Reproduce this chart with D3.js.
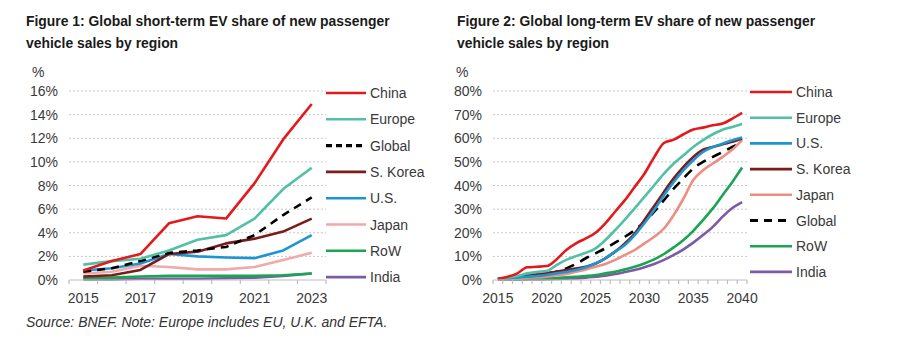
<html>
<head>
<script src="https://d3js.org/d3.v7.min.js"></script>
<style>
    body { margin: 0; background: #fff; }
    svg { font-family: "Liberation Sans", Arial, sans-serif; }
    .title { font-weight: bold; font-size: 13.9px; fill: #1a1a1a; }
    .tick-label { font-size: 14px; fill: #3a3a3a; }
    .legend-label { font-size: 14px; fill: #3a3a3a; }
    .grid { stroke: #c8c8c8; stroke-width: 1; stroke-dasharray: 2,2; }
    .axis-line { stroke: #bdbdbd; stroke-width: 1.2; }
    .series { fill: none; stroke-width: 2.6; stroke-linejoin: round; }
</style>
</head>
<body>
<svg id="chart" width="906" height="351"></svg>
<script>
    // ---- data: Figure 1 (short-term, %) ----
    let shortYears = [2015, 2016, 2017, 2018, 2019, 2020, 2021, 2022, 2023];
    let shortChina   = [0.8, 1.6, 2.2, 4.8, 5.4, 5.2, 8.2, 11.9, 14.9];
    let shortEurope  = [1.3, 1.6, 1.8, 2.5, 3.4, 3.8, 5.2, 7.7, 9.5];
    let shortGlobal  = [0.7, 1.0, 1.6, 2.3, 2.5, 2.8, 3.8, 5.5, 7.0];
    let shortKorea   = [0.3, 0.4, 0.85, 2.2, 2.4, 3.1, 3.5, 4.1, 5.2];
    let shortUS      = [0.8, 1.0, 1.4, 2.2, 2.0, 1.9, 1.85, 2.5, 3.8];
    let shortJapan   = [0.55, 0.7, 1.2, 1.1, 0.9, 0.9, 1.1, 1.7, 2.3];
    let shortRoW     = [0.15, 0.2, 0.3, 0.35, 0.35, 0.35, 0.35, 0.4, 0.55];
    let shortIndia   = [0.05, 0.05, 0.1, 0.1, 0.1, 0.15, 0.2, 0.35, 0.55];
    let shortTicks = [0, 2, 4, 6, 8, 10, 12, 14, 16];
    let shortYearLabels = [2015, 2017, 2019, 2021, 2023];

    // ---- data: Figure 2 (long-term, %) ----
    let longYears = d3.range(2015, 2041);
    let longChina  = [0.5, 1.4, 2.8, 5.4, 5.6, 5.9, 8.7, 12.7, 15.5, 17.6, 20, 24, 28.9, 33.8, 39.4, 45, 52, 58, 59.4, 61.7, 63.7, 64.5, 65.5, 66.2, 68.3, 70.8];
    let longEurope = [0.4, 1.1, 1.7, 2.8, 3.4, 3.8, 6.3, 8.5, 10.1, 11.5, 13.4, 16.9, 21.1, 25.6, 30.3, 35.2, 40.1, 45, 49.3, 52.8, 56.3, 59.2, 61.7, 63.6, 64.8, 66];
    let longUS     = [0.3, 0.6, 1.0, 1.4, 1.7, 2.1, 2.8, 3.4, 4.2, 5.4, 7, 9.2, 12, 14.8, 19, 24, 29.6, 35.9, 41.5, 46.5, 50.7, 54.2, 56.3, 57.7, 59.2, 60.3];
    let longKorea  = [0.4, 0.7, 1.4, 2.0, 2.4, 2.8, 3.5, 4.2, 4.9, 5.6, 7, 9.2, 12, 15.5, 19.7, 25.4, 31.3, 37.3, 43, 47.9, 52.1, 55.2, 56.3, 57.5, 58.5, 59.9];
    let longJapan  = [0.1, 0.4, 0.7, 1.0, 1.1, 1.4, 2.0, 2.5, 3.5, 4.5, 5.6, 6.8, 8.5, 10.6, 12.7, 15.5, 18.3, 21.8, 27.5, 34.5, 42.3, 46.5, 49.3, 52.1, 55.2, 59.2];
    let longGlobal = [0.4, 0.7, 1.4, 1.7, 2.1, 2.8, 3.5, 4.9, 6.8, 9.2, 11.3, 13.4, 15.8, 18.3, 21.1, 24.6, 28.9, 33.8, 38.7, 43, 47.2, 50, 52.1, 54.2, 56.3, 58.5];
    let longRoW    = [0.1, 0.1, 0.3, 0.4, 0.6, 0.7, 0.8, 1.1, 1.4, 1.7, 2.1, 2.8, 3.5, 4.5, 5.6, 7, 8.7, 11, 13.8, 16.9, 20.8, 25.4, 30.3, 35.9, 41.5, 47.6];
    let longIndia  = [0.1, 0.1, 0.1, 0.2, 0.2, 0.3, 0.4, 0.6, 0.7, 1.0, 1.4, 1.8, 2.5, 3.4, 4.2, 5.4, 6.8, 8.5, 10.6, 13, 15.8, 19, 22.5, 26.8, 30.5, 33];
    let longTicks = [0, 10, 20, 30, 40, 50, 60, 70, 80];
    let longYearLabels = [2015, 2020, 2025, 2030, 2035, 2040];

    let colors = {
        'China': '#e4191c', 'Europe': '#52c0a4', 'Global': '#000000', 'S. Korea': '#7a1c1c',
        'U.S.': '#1d95d2', 'Japan': '#f2a9a9', 'RoW': '#1ba553', 'India': '#7c5ba6'
    };

    let svg = d3.select('#chart');

    function drawChart(cfg) {
        let g = svg.append('g');

        g.selectAll('.title')
            .data(cfg.title)
          .enter()
            .append('text')
            .classed('title', true)
            .attr('x', cfg.titleX)
            .attr('y', (d, i) => 26 + i * 22)
            .text(d => d);

        let x = d3.scalePoint()
            .domain(cfg.years)
            .range([cfg.x0, cfg.x1])
            .padding(0.5);

        let y = d3.scaleLinear()
            .domain([0, cfg.max])
            .range([280, 91]);

        // gridlines
        g.selectAll('.grid')
            .data(cfg.ticks.filter(d => d > 0))
          .enter()
            .append('line')
            .classed('grid', true)
            .attr('x1', cfg.x0).attr('x2', cfg.x1)
            .attr('y1', d => y(d)).attr('y2', d => y(d));

        // y tick labels
        g.selectAll('.ylab')
            .data(cfg.ticks)
          .enter()
            .append('text')
            .classed('tick-label', true)
            .attr('x', cfg.x0 - 11)
            .attr('y', d => y(d) + 5)
            .attr('text-anchor', 'end')
            .text(d => d + '%');

        g.append('text')
            .classed('tick-label', true)
            .attr('x', cfg.x0 - 37)
            .attr('y', 77)
            .text('%');

        // series
        let line = d3.line()
            .x((d, i) => x(cfg.years[i]))
            .y(d => y(d))
            .curve(cfg.curve);

        g.selectAll('.series')
            .data(cfg.series.slice().reverse())
          .enter()
            .append('path')
            .classed('series', true)
            .attr('d', d => line(d.values))
            .attr('stroke', d => colors[d.name])
            .attr('stroke-width', d => d.name === 'Global' ? 3.2 : 2.6)
            .attr('stroke-dasharray', d => d.name === 'Global' ? cfg.dash : null);

        // x axis, ticks between categories
        let step = x.step();
        g.append('line')
            .classed('axis-line', true)
            .attr('x1', cfg.x0).attr('x2', cfg.x1)
            .attr('y1', y(0)).attr('y2', y(0));

        g.selectAll('.xtick')
            .data(d3.range(cfg.years.length + 1))
          .enter()
            .append('line')
            .classed('axis-line', true)
            .attr('x1', i => cfg.x0 + i * step)
            .attr('x2', i => cfg.x0 + i * step)
            .attr('y1', y(0)).attr('y2', y(0) + 4);

        g.selectAll('.xlab')
            .data(cfg.yearLabels)
          .enter()
            .append('text')
            .classed('tick-label', true)
            .attr('x', d => x(d))
            .attr('y', 303)
            .attr('text-anchor', 'middle')
            .text(d => d);

        // legend
        let leg = g.selectAll('.legend')
            .data(cfg.series)
          .enter()
            .append('g')
            .attr('transform', (d, i) => 'translate(' + cfg.legX + ',' + (cfg.legY + i * cfg.legStep) + ')');

        leg.append('line')
            .attr('x1', 0).attr('x2', cfg.legLen)
            .attr('stroke', d => colors[d.name])
            .attr('stroke-width', d => d.name === 'Global' ? 3.2 : 2.6)
            .attr('stroke-dasharray', d => d.name === 'Global' ? cfg.legDash : null);

        leg.append('text')
            .classed('legend-label', true)
            .attr('x', cfg.legLen + 4)
            .attr('y', 5)
            .text(d => d.name);
    }

    drawChart({
        title: ['Figure 1: Global short-term EV share of new passenger', 'vehicle sales by region'],
        titleX: 26,
        years: shortYears, yearLabels: shortYearLabels, ticks: shortTicks, max: 16,
        x0: 69, x1: 326,
        curve: d3.curveLinear,
        dash: '8,6', legDash: '6,4',
        series: [
            {name: 'China', values: shortChina},
            {name: 'Europe', values: shortEurope},
            {name: 'Global', values: shortGlobal},
            {name: 'S. Korea', values: shortKorea},
            {name: 'U.S.', values: shortUS},
            {name: 'Japan', values: shortJapan},
            {name: 'RoW', values: shortRoW},
            {name: 'India', values: shortIndia}
        ],
        legX: 326, legY: 93, legStep: 26.3, legLen: 40
    });

    colors['Japan'] = '#ee8e82';

    drawChart({
        title: ['Figure 2: Global long-term EV share of new passenger', 'vehicle sales by region'],
        titleX: 457,
        years: longYears, yearLabels: longYearLabels, ticks: longTicks, max: 80,
        x0: 493, x1: 747,
        curve: d3.curveMonotoneX,
        dash: '10,7', legDash: '8,6',
        series: [
            {name: 'China', values: longChina},
            {name: 'Europe', values: longEurope},
            {name: 'U.S.', values: longUS},
            {name: 'S. Korea', values: longKorea},
            {name: 'Japan', values: longJapan},
            {name: 'Global', values: longGlobal},
            {name: 'RoW', values: longRoW},
            {name: 'India', values: longIndia}
        ],
        legX: 750, legY: 92, legStep: 25.7, legLen: 42
    });

    svg.append('text')
        .attr('x', 26)
        .attr('y', 327)
        .style('font-style', 'italic')
        .style('font-size', '14px')
        .style('fill', '#333')
        .text('Source: BNEF. Note: Europe includes EU, U.K. and EFTA.');
</script>
</body>
</html>
